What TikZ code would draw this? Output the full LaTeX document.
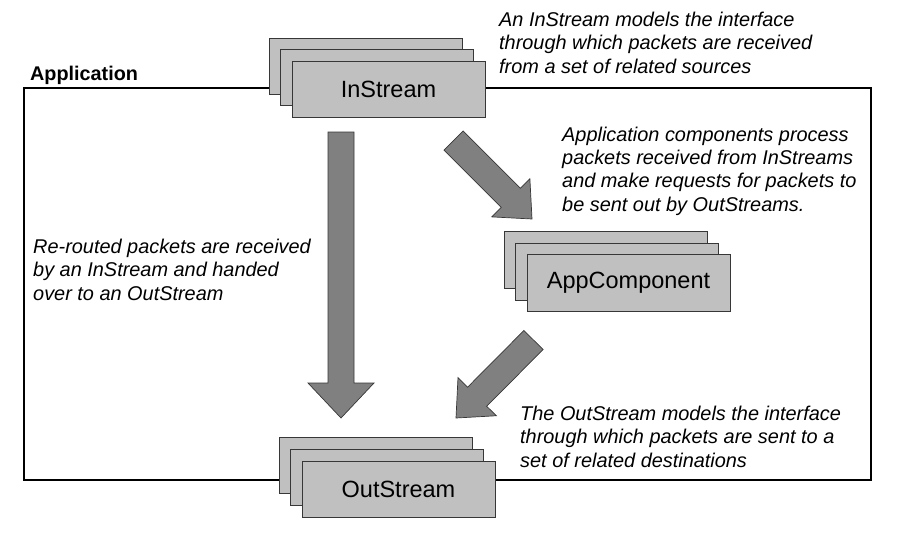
\documentclass[tikz,border=0pt]{standalone}
\usepackage{fontspec}
\setmainfont{Liberation Sans}
\usetikzlibrary{calc}

\definecolor{boxgray}{RGB}{192,192,192}
\definecolor{arrowgray}{RGB}{128,128,128}
\definecolor{edgegray}{RGB}{55,55,55}

% block arrow: name, tail, tip, half shaft, half head, head length
\newcommand{\fatarrow}[6]{%
  \coordinate (#1-h) at ($(#3)!#6!(#2)$);
  \draw[blockarrow] ($(#2)!#4!90:(#3)$) -- ($(#1-h)!#4!-90:(#2)$)
    -- ($(#1-h)!#5!-90:(#2)$) -- (#3) -- ($(#1-h)!#5!90:(#2)$)
    -- ($(#1-h)!#4!90:(#2)$) -- ($(#2)!#4!-90:(#3)$) -- cycle;
}

\begin{document}
\begin{tikzpicture}[x=1pt,y=-1pt,
  stackbox/.style={draw=edgegray,fill=boxgray,line width=0.8pt,inner sep=0pt,
    minimum width=193pt,minimum height=56pt,font=\fontsize{23.5}{28}\selectfont},
  blockarrow/.style={draw=edgegray,fill=arrowgray,line width=0.7pt,line join=miter},
  note/.style={anchor=base west,align=left,inner sep=0pt,
    font=\fontsize{19.9}{23.2}\selectfont\itshape}]
  \useasboundingbox (0,0) rectangle (900,533);

  % Frame
  \draw[line width=2.4pt] (24,88) rectangle (871,480);
  \node[anchor=base west,inner sep=0pt,font=\fontsize{19.8}{23}\selectfont\bfseries]
    (lbl-app) at (30,80) {Application};

  % InStream stack
  \node[stackbox] (in-c) at (365.5,66) {};
  \node[stackbox] (in-b) at (377,77.5) {};
  \node[stackbox] (in) at (388.5,89) {InStream};

  % AppComponent stack
  \node[stackbox,minimum width=203pt,minimum height=57pt] (app-c) at (605.5,260) {};
  \node[stackbox,minimum width=203pt,minimum height=57pt] (app-b) at (617,271.5) {};
  \node[stackbox,minimum width=203pt,minimum height=57pt] (app) at (628.5,282.5) {AppComponent};

  % OutStream stack
  \node[stackbox] (out-c) at (375.5,465.5) {};
  \node[stackbox] (out-b) at (387,477) {};
  \node[stackbox] (out) at (398.5,489) {OutStream};

  % Block arrows
  \coordinate (route-a) at (341,132);
  \coordinate (route-b) at (341,418);
  \fatarrow{route}{route-a}{route-b}{13pt}{33pt}{35pt}
  \coordinate (proc-a) at (453.5,140.5);
  \coordinate (proc-b) at (532,219);
  \fatarrow{proc}{proc-a}{proc-b}{13.5pt}{27pt}{30pt}
  \coordinate (send-a) at (533.5,340);
  \coordinate (send-b) at (456,418);
  \fatarrow{send}{send-a}{send-b}{13.5pt}{27pt}{30pt}

  % Notes (anchored at the last line)
  \node[note] (note-in) at (499,73) {An InStream models the interface\\
    through which packets are received\\from a set of related sources};
  \node[note] (note-app) at (562,211) {Application components process\\
    packets received from InStreams\\and make requests for packets to\\
    be sent out by OutStreams.};
  \node[note] (note-route) at (33,300) {Re-routed packets are received\\
    by an InStream and handed\\over to an OutStream};
  \node[note] (note-out) at (520,467) {The OutStream models the interface\\
    through which packets are sent to a\\set of related destinations};
\end{tikzpicture}
\end{document}
